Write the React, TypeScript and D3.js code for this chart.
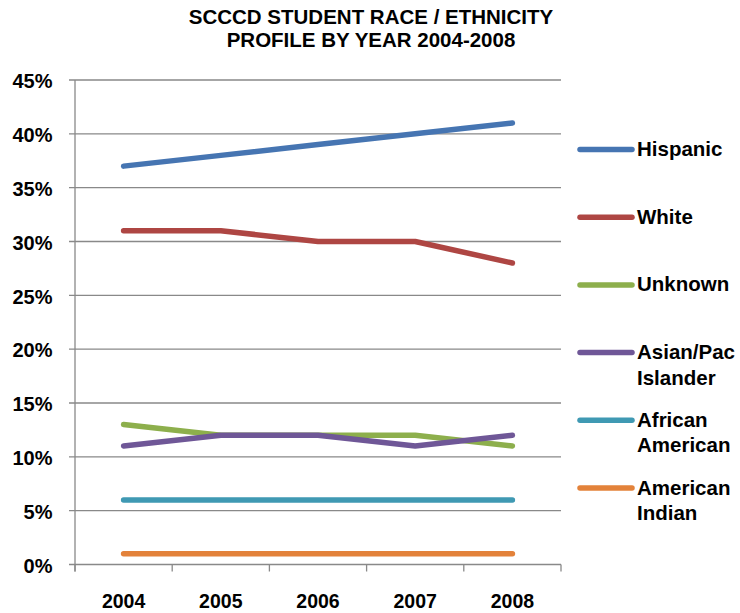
import React from "react";
import * as d3 from "d3";

const years = ["2004", "2005", "2006", "2007", "2008"];
const hispanic = [37, 38, 39, 40, 41];
const white = [31, 31, 30, 30, 28];
const unknown = [13, 12, 12, 12, 11];
const asianPac = [11, 12, 12, 11, 12];
const africanAmerican = [6, 6, 6, 6, 6];
const americanIndian = [1, 1, 1, 1, 1];
const yTicks = [0, 5, 10, 15, 20, 25, 30, 35, 40, 45];

const seriesNames = [
  ["Hispanic"],
  ["White"],
  ["Unknown"],
  ["Asian/Pac", "Islander"],
  ["African", "American"],
  ["American", "Indian"],
];
const seriesValues = [hispanic, white, unknown, asianPac, africanAmerican, americanIndian];
const seriesColors = ["#4675B2", "#AE4643", "#8DAF4C", "#6F5797", "#3F99B3", "#E3823A"];

const W = 740;
const H = 613;
const left = 75;
const right = 561;
const top = 80;
const bottom = 564.5;
const font = "'Liberation Sans', Arial, sans-serif";

export default function App() {
  const x = d3.scaleBand<string>().domain(years).range([left, right]);
  const y = d3.scaleLinear().domain([0, 45]).range([bottom, top]);
  const line = d3
    .line<number>()
    .x((_, i) => (x(years[i]) as number) + x.bandwidth() / 2)
    .y((d) => y(d));

  const boundaries = [...years.map((yr) => x(yr) as number), right];

  return (
    <svg
      width={W}
      height={H}
      style={{ position: "absolute", left: 0, top: 0, background: "#fff" }}
      fontFamily={font}
    >
      <text x={371} y={24} textAnchor="middle" fontSize={20.5} fontWeight="bold">
        SCCCD STUDENT RACE / ETHNICITY
      </text>
      <text x={371} y={47.3} textAnchor="middle" fontSize={20.5} fontWeight="bold">
        PROFILE BY YEAR 2004-2008
      </text>

      {yTicks.map((t) => (
        <g key={t}>
          <line x1={69} x2={right} y1={y(t)} y2={y(t)} stroke="#898989" strokeWidth={1.3} />
          <text
            x={52.5}
            y={y(t) + 1}
            dy="0.36em"
            textAnchor="end"
            fontSize={20}
            fontWeight="bold"
          >
            {t}%
          </text>
        </g>
      ))}
      <line x1={left} x2={left} y1={top} y2={bottom + 7} stroke="#898989" strokeWidth={1.3} />
      {boundaries.map((b, i) => (
        <line key={i} x1={b} x2={b} y1={bottom} y2={bottom + 7} stroke="#898989" strokeWidth={1.3} />
      ))}
      {years.map((yr) => (
        <text
          key={yr}
          x={(x(yr) as number) + x.bandwidth() / 2}
          y={608}
          textAnchor="middle"
          fontSize={19.5}
          fontWeight="bold"
        >
          {yr}
        </text>
      ))}

      {seriesValues.map((vals, i) => (
        <path
          key={i}
          d={line(vals) || ""}
          fill="none"
          stroke={seriesColors[i]}
          strokeWidth={5.5}
          strokeLinecap="round"
          strokeLinejoin="round"
        />
      ))}

      {seriesNames.map((lines, i) => {
        const ly = 149.5 + i * 67.7;
        return (
          <g key={i}>
            <line
              x1={580}
              x2={632}
              y1={ly}
              y2={ly}
              stroke={seriesColors[i]}
              strokeWidth={5.5}
              strokeLinecap="round"
            />
            {lines.map((s, j) => (
              <text
                key={j}
                x={637}
                y={ly + j * 25.5 + 6.5}
                fontSize={20.5}
                fontWeight="bold"
              >
                {s}
              </text>
            ))}
          </g>
        );
      })}
    </svg>
  );
}
